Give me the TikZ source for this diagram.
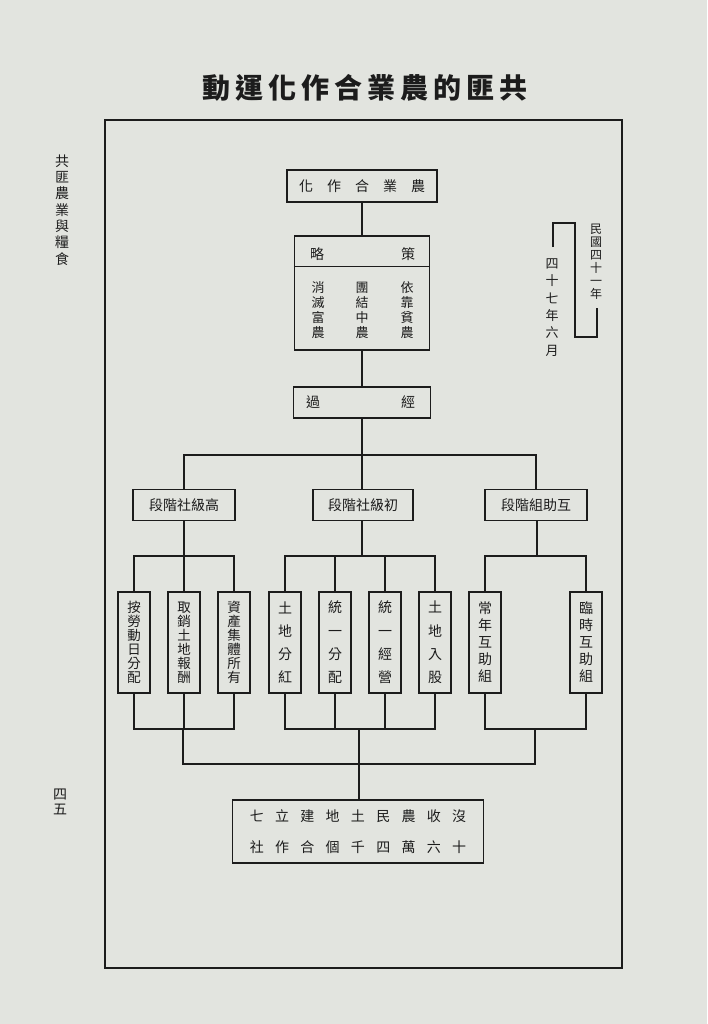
\documentclass[tikz,border=0pt]{standalone}
\usepackage{fontspec}
\newfontfamily\cjk{Noto Sans CJK TC}
\definecolor{paper}{RGB}{226,228,223}
\definecolor{ink}{RGB}{28,28,28}
\makeatletter
\newcommand\spc[2]{\@tfor\spcch:=#2\do{\spcch\kern#1}\kern-#1}
\makeatother
\tikzset{
  ln/.style={draw=ink, line width=1.3pt},
  hbox/.style={draw=ink, line width=1.4pt, inner sep=0pt, text=ink, font={\cjk\fontsize{14}{16}\selectfont}},
  vbox/.style={draw=ink, line width=1.4pt, inner sep=0pt, text=ink, minimum width=32pt, minimum height=101pt, align=center, font={\cjk\fontsize{14}{#1}\selectfont}},
  vtext/.style={inner sep=0pt, text=ink, align=center, font={\cjk\fontsize{13}{#1}\selectfont}},
  htext/.style={inner sep=0pt, text=ink, font={\cjk\fontsize{14}{16}\selectfont}},
}
\begin{document}
\begin{tikzpicture}[x=1pt,y=-1pt]
\fill[paper] (0,0) rectangle (707,1024);
\useasboundingbox (0,0) rectangle (707,1024);

% title and margins
\node[inner sep=0pt, text=ink, font={\cjk\bfseries\fontsize{28}{30}\selectfont}] (title) at (365,88) {\spc{5pt}{動運化作合業農的匪共}};
\node[vtext=16.3, font={\cjk\fontsize{14}{16.3}\selectfont}] (side) at (62,210) {共\\匪\\農\\業\\與\\糧\\食};
\node[vtext=15, font={\cjk\fontsize{14}{15}\selectfont}] (pg) at (60,802) {四\\五};

% frame
\draw[draw=ink, line width=2pt] (105,120) rectangle (622,968);

% date annotation
\node[vtext=13, font={\cjk\fontsize{12}{13}\selectfont}] (d1) at (596,261.5) {民\\國\\四\\十\\一\\年};
\node[vtext=17.4] (d2) at (552,307.5) {四\\十\\七\\年\\六\\月};
\coordinate (k1) at (553,247);
\coordinate (k2) at (553,223);
\coordinate (k3) at (575,223);
\coordinate (k4) at (575,337);
\coordinate (k5) at (597,337);
\coordinate (k6) at (597,308);
\draw[ln] (k1) -- (k2) -- (k3) -- (k4) -- (k5) -- (k6);

% top box
\node[hbox, minimum width=150pt, minimum height=32pt] (top) at (362,186) {\spc{14pt}{化作合業農}};

% strategy box
\node[hbox, minimum width=135pt, minimum height=114pt] (strat) at (362,293) {};
\draw[ln] ([yshift=-31pt]strat.north west) -- ([yshift=-31pt]strat.north east);
\node[htext] (lue) at (317,254) {略};
\node[htext] (ce) at (408,254) {策};
\node[vtext=15] (s1) at (318,310) {消\\滅\\富\\農};
\node[vtext=15] (s2) at (362,310) {團\\結\\中\\農};
\node[vtext=15] (s3) at (407,310) {依\\靠\\貧\\農};

% process box
\node[hbox, minimum width=137pt, minimum height=31pt] (jing) at (362,402.5) {};
\node[htext] (guo) at (313,402.5) {過};
\node[htext] (jg) at (408,402.5) {經};

% stage boxes
\node[hbox, minimum width=102pt, minimum height=31pt] (g1) at (184,505) {段階社級高};
\node[hbox, minimum width=100pt, minimum height=31pt] (g2) at (363,505) {段階社級初};
\node[hbox, minimum width=102pt, minimum height=31pt] (g3) at (536,505) {段階組助互};

% bottom boxes
\node[vbox=14, font={\cjk\fontsize{13.5}{14}\selectfont}] (c1) at (134,642.5) {按\\勞\\動\\日\\分\\配};
\node[vbox=14, font={\cjk\fontsize{13.5}{14}\selectfont}] (c2) at (184,642.5) {取\\銷\\土\\地\\報\\酬};
\node[vbox=14, font={\cjk\fontsize{13.5}{14}\selectfont}] (c3) at (234,642.5) {資\\產\\集\\體\\所\\有};
\node[vbox=23.3] (c4) at (285,642.5) {土\\地\\分\\紅};
\node[vbox=23.3] (c5) at (335,642.5) {統\\一\\分\\配};
\node[vbox=23.3] (c6) at (385,642.5) {統\\一\\經\\營};
\node[vbox=23.3] (c7) at (435,642.5) {土\\地\\入\\股};
\node[vbox=17] (c8) at (485,642.5) {常\\年\\互\\助\\組};
\node[vbox=17] (c9) at (586,642.5) {臨\\時\\互\\助\\組};

% final box
\node[hbox, minimum width=251pt, minimum height=63pt, align=center, font={\cjk\fontsize{14}{31}\selectfont}] (final) at (358,831.5) {\spc{11.3pt}{七立建地土民農收沒}\\\spc{11.3pt}{社作合個千四萬六十}};

% connectors
\draw[ln] (top.south) -- (strat.north);
\draw[ln] (strat.south) -- (jing.north);
\coordinate (b1) at (362,455);
\draw[ln] (jing.south) -- (b1);
\draw[ln] (g1.north) |- (b1) -| (g3.north);
\draw[ln] (b1) -- (b1 |- g2.north);

\coordinate (u1) at (184,556);
\coordinate (u2) at (362,556);
\coordinate (u3) at (537,556);
\draw[ln] (g1.south) -- (u1);
\draw[ln] (c1.north) |- (u1) -| (c3.north);
\draw[ln] (c2.north) -- (c2.north |- u1);
\draw[ln] (u2 |- g2.south) -- (u2);
\draw[ln] (c4.north) |- (u2) -| (c7.north);
\draw[ln] (c5.north) -- (c5.north |- u2);
\draw[ln] (c6.north) -- (c6.north |- u2);
\draw[ln] (u3 |- g3.south) -- (u3);
\draw[ln] (c8.north) |- (u3) -| (c9.north);

\coordinate (l1) at (183,729);
\coordinate (l2) at (359,729);
\coordinate (l3) at (535,729);
\draw[ln] (c1.south) |- (l1) -| (c3.south);
\draw[ln] (c2.south) -- (c2.south |- l1);
\draw[ln] (c4.south) |- (l2) -| (c7.south);
\draw[ln] (c5.south) -- (c5.south |- l2);
\draw[ln] (c6.south) -- (c6.south |- l2);
\draw[ln] (c8.south) |- (l3) -| (c9.south);

\coordinate (m1) at (183,764);
\coordinate (m2) at (359,764);
\coordinate (m3) at (535,764);
\draw[ln] (l1) -- (m1) -- (m3) -- (l3);
\draw[ln] (l2) -- (m2) -- (m2 |- final.north);
\end{tikzpicture}
\end{document}
